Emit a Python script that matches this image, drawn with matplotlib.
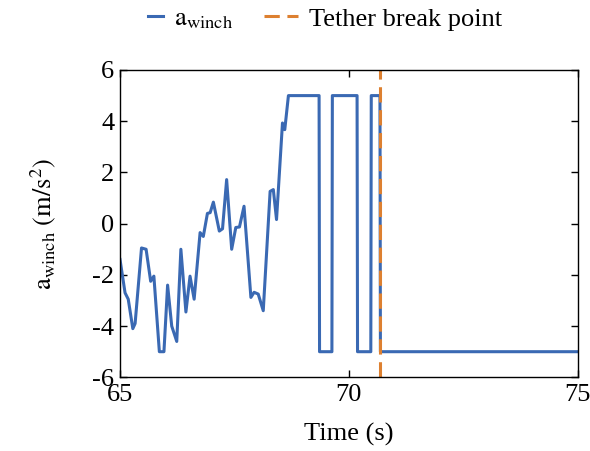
import numpy as np
import matplotlib
matplotlib.use('Agg')
import matplotlib.pyplot as plt

# fonts: Times-like serif everywhere
plt.rcParams['font.family'] = ['Liberation Serif', 'DejaVu Serif']
plt.rcParams['mathtext.fontset'] = 'stix'
plt.rcParams['axes.unicode_minus'] = False

# winch acceleration
time = [65.0, 65.11, 65.18, 65.28, 65.33, 65.47, 65.57, 65.67, 65.74, 65.86,
        65.96, 66.04, 66.13, 66.24, 66.33, 66.44, 66.53, 66.62, 66.75, 66.82,
        66.91, 66.97, 67.04, 67.17, 67.24, 67.33, 67.44, 67.53, 67.61, 67.71,
        67.86, 67.93, 68.02, 68.13, 68.28, 68.35, 68.42, 68.55, 68.60, 68.68,
        69.35, 69.36, 69.63, 69.64, 70.18, 70.19, 70.48, 70.49, 70.68, 70.69,
        75.0]
a_winch = [-1.4, -2.7, -2.95, -4.1, -3.9, -0.95, -1.0, -2.25, -2.05, -5.0,
           -5.0, -2.4, -4.0, -4.6, -1.0, -3.45, -2.05, -2.95, -0.35, -0.5,
           0.4, 0.43, 0.84, -0.29, -0.2, 1.72, -1.0, -0.15, -0.13, 0.68,
           -2.88, -2.68, -2.75, -3.4, 1.26, 1.33, 0.16, 3.93, 3.67, 5.0,
           5.0, -5.0, -5.0, 5.0, 5.0, -5.0, -5.0, 5.0, 5.0, -5.0,
           -5.0]
break_time = 70.69

blue = '#3a69b3'
orange = '#dd8030'
fs = 19

fig = plt.figure(figsize=(5.9, 4.51), dpi=100)
ax = fig.add_axes([0.2034, 0.1634, 0.7757, 0.6814])

line_a, = ax.plot(time, a_winch, color=blue, linewidth=2.2)
line_b = ax.axvline(break_time, color=orange, linewidth=2.2, linestyle=(0, (5, 2.5)))

ax.set_xlim(65, 75)
ax.set_ylim(-6, 6)
ax.set_xticks([65, 70, 75])
ax.set_yticks([-6, -4, -2, 0, 2, 4, 6])
ax.tick_params(direction='in', top=True, right=True, labelsize=fs, length=5, width=1)
ax.tick_params(axis='x', pad=5)
ax.tick_params(axis='y', pad=4)
for s in ax.spines.values():
    s.set_linewidth(1.0)
ax.set_xlabel('Time (s)', fontsize=fs, labelpad=12)
ax.set_ylabel(r'$\mathrm{a}_{\mathrm{winch}}\ \left(\mathrm{m/s}^{2}\right)$', fontsize=fs)
ax.yaxis.set_label_coords(-0.135, 0.5)

# two legends so the handles can have different lengths
leg1 = fig.legend([line_a], [r'$\mathrm{a}_{\mathrm{winch}}$'], loc='upper left',
                  bbox_to_anchor=(0.25, 0.984), frameon=False, fontsize=fs,
                  handlelength=0.6, handletextpad=0.4, borderpad=0, borderaxespad=0)
leg2 = fig.legend([line_b], ['Tether break point'], loc='upper left',
                  bbox_to_anchor=(0.447, 0.984), frameon=False, fontsize=fs,
                  handlelength=1.3, handletextpad=0.4, borderpad=0, borderaxespad=0)

fig.savefig('out.png', dpi=100)
